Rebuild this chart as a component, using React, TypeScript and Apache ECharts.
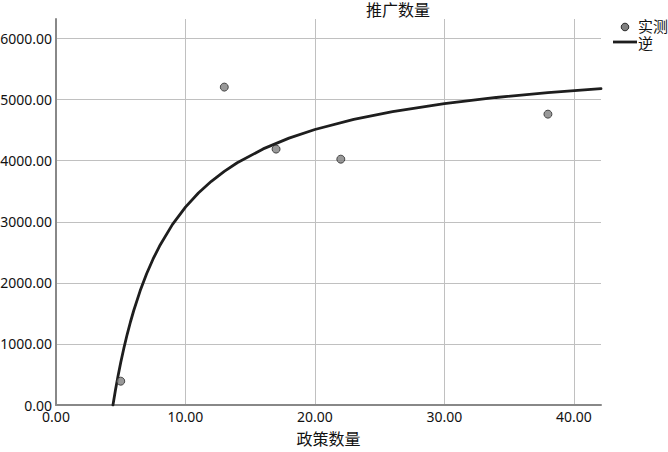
import React, { useEffect, useRef } from "react";
import * as echarts from "echarts";

// Observed points (政策数量, 推广数量)
const observedX = [5, 13, 17, 22, 38];
const observedY = [390, 5205, 4190, 4025, 4762];

// Inverse-model fitted curve
const curveX = [4.4, 4.6, 4.8, 5, 5.25, 5.5, 5.75, 6, 6.5, 7, 7.5, 8, 9, 10, 11, 12, 13, 14, 16, 18, 20, 23, 26, 30, 34, 38, 42.1];
const curveY = [0, 253, 483, 695, 937, 1158, 1359, 1543, 1869, 2149, 2391, 2603, 2957, 3239, 3471, 3663, 3826, 3966, 4193, 4370, 4511, 4677, 4805, 4935, 5035, 5114, 5179];

const xTitle = "政策数量";
const yTitle = "推广数量";
const legendNames = ["实测", "逆"];

const xMin = 0;
const xMax = 42.1;
const xStep = 10;
const yMin = 0;
const yMax = 6320;
const yStep = 1000;

const CJK = '"Noto Sans CJK SC", "Noto Sans", sans-serif';
const LAT = '"Noto Sans", "DejaVu Sans", sans-serif';

export default function App() {
  const ref = useRef<HTMLDivElement>(null);

  useEffect(() => {
    if (!ref.current) return;
    const chart = echarts.init(ref.current, undefined, { renderer: "svg" });
    const scatterData = observedX.map((x, i) => [x, observedY[i]]);
    const lineData = curveX.map((x, i) => [x, curveY[i]]);

    chart.setOption({
      animation: false,
      backgroundColor: "#ffffff",
      grid: {
        left: 56,
        right: 67,
        top: 19,
        bottom: 47,
        outerBoundsMode: "none",
      },
      xAxis: {
        type: "value",
        min: xMin,
        max: xMax,
        interval: xStep,
        name: xTitle,
        nameLocation: "middle",
        nameGap: 25,
        nameTextStyle: { fontFamily: CJK, fontSize: 16, color: "#111" },
        axisLine: { show: true, onZero: false, lineStyle: { color: "#888", width: 2 } },
        axisTick: { show: false },
        axisLabel: {
          fontFamily: LAT,
          fontSize: 14,
          color: "#111",
          margin: 4,
          showMaxLabel: false,
          formatter: (v: number) => v.toFixed(2),
        },
        splitLine: {
          show: true,
          showMinLine: false,
          showMaxLine: false,
          lineStyle: { color: "#c0c0c0", width: 1 },
        },
      },
      yAxis: {
        type: "value",
        min: yMin,
        max: yMax,
        interval: yStep,
        axisLine: { show: true, onZero: false, lineStyle: { color: "#888", width: 2 } },
        axisTick: { show: false },
        axisLabel: {
          fontFamily: LAT,
          fontSize: 14,
          color: "#111",
          margin: 4,
          showMaxLabel: false,
          formatter: (v: number) => v.toFixed(2),
        },
        splitLine: {
          show: true,
          showMinLine: false,
          showMaxLine: false,
          lineStyle: { color: "#c0c0c0", width: 1 },
        },
      },
      series: [
        {
          name: legendNames[1],
          type: "line",
          data: lineData,
          showSymbol: false,
          symbol: "none",
          smooth: false,
          lineStyle: { color: "#1e1e1e", width: 2.8, join: "round", cap: "round" },
          z: 2,
        },
        {
          name: legendNames[0],
          type: "scatter",
          data: scatterData,
          symbol: "circle",
          symbolSize: 8,
          itemStyle: { color: "#808080", borderColor: "#2a2a2a", borderWidth: 1 },
          z: 3,
        },
      ],
      graphic: [
        {
          type: "text",
          x: 398,
          y: 8.5,
          style: {
            text: yTitle,
            fontFamily: CJK,
            fontSize: 16,
            lineHeight: 16,
            fill: "#111",
            align: "center",
            verticalAlign: "middle",
          },
        },
        {
          type: "circle",
          shape: { cx: 625, cy: 27, r: 3.8 },
          style: { fill: "#808080", stroke: "#2a2a2a", lineWidth: 1 },
        },
        {
          type: "text",
          x: 638,
          y: 25,
          style: {
            text: legendNames[0],
            fontFamily: CJK,
            fontSize: 15,
            lineHeight: 15,
            fill: "#111",
            align: "left",
            verticalAlign: "middle",
          },
        },
        {
          type: "line",
          shape: { x1: 613, y1: 42, x2: 637, y2: 42 },
          style: { stroke: "#1e1e1e", lineWidth: 2.8 },
        },
        {
          type: "text",
          x: 638,
          y: 42.5,
          style: {
            text: legendNames[1],
            fontFamily: CJK,
            fontSize: 15,
            lineHeight: 15,
            fill: "#111",
            align: "left",
            verticalAlign: "middle",
          },
        },
      ],
    });

    return () => chart.dispose();
  }, []);

  return (
    <div
      ref={ref}
      style={{ position: "fixed", left: 0, top: 0, width: 668, height: 452 }}
    />
  );
}
